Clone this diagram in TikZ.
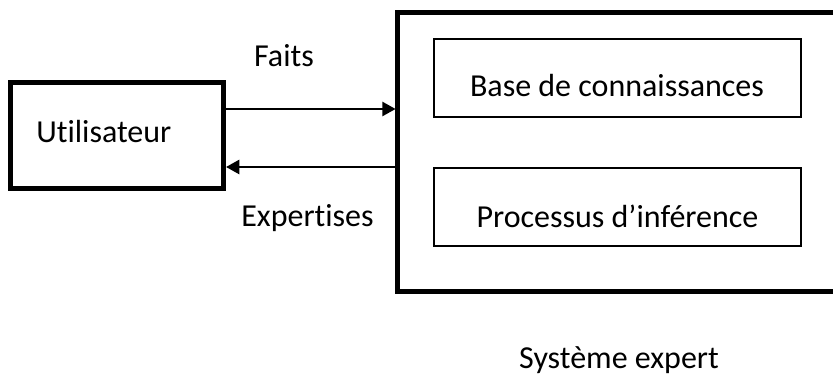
\documentclass[tikz,border=0pt]{standalone}
\usepackage{fontspec}
\setmainfont[Ligatures=NoCommon]{Carlito}
\usetikzlibrary{arrows.meta}
\begin{document}
\begin{tikzpicture}[x=0.75pt,y=-0.75pt,
  thickbox/.style={draw=black,line width=3.75pt,inner sep=0pt},
  thickline/.style={draw=black,line width=3.75pt,line join=miter},
  thinbox/.style={draw=black,line width=1.5pt,inner sep=0pt,minimum width=367*0.75pt,minimum height=78*0.75pt},
  lbl/.style={font=\fontsize{24}{28}\selectfont,inner sep=0pt,anchor=base},
  conn/.style={line width=2pt,-{Triangle[length=10pt,width=10.5pt]}}]
\useasboundingbox (0,0) rectangle (833,377);
% user box
\node[thickbox,minimum width=213*0.75pt,minimum height=106*0.75pt] (u) at (117,135.5) {};
\node[lbl,anchor=base west] (ut) at (36,142.7) {Utilisateur};
% system box (its right side lies beyond the picture)
\node[inner sep=0pt,outer sep=0pt,minimum width=460*0.75pt,minimum height=279*0.75pt,anchor=north west] (sys) at (397.5,12.5) {};
\draw[thickline] (sys.north east) -- (sys.north west) -- (sys.south west) -- (sys.south east);
% inner boxes
\node[thinbox] (kb) at (617.3,78.5) {};
\node[lbl] (kbt) at (617,97) {Base de connaissances};
\node[thinbox] (ip) at (617.3,207.5) {};
\node[lbl] (ipt) at (617.5,228) {Processus d’inférence};
% connectors
\coordinate (fy) at (0,109);
\coordinate (ey) at (0,167);
\draw[conn] (u.east |- fy) -- ([xshift=-1.4pt]sys.west |- fy);
\draw[conn] ([xshift=-1.4pt]sys.west |- ey) -- (u.east |- ey);
\node[lbl] (faits) at (284,67) {Faits};
\node[lbl] (exp) at (307.5,227) {Expertises};
\node[lbl] (se) at (619,369) {Système expert};
\end{tikzpicture}
\end{document}
